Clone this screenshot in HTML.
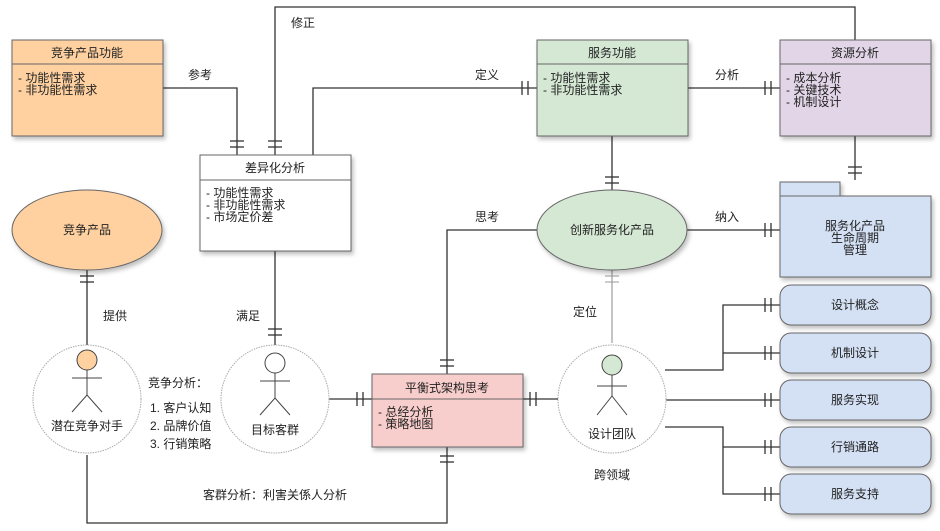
<!DOCTYPE html>
<html><head><meta charset="utf-8"><style>
html,body{margin:0;padding:0;background:#fff;}
svg{display:block;}
text{font-family:"Liberation Sans","Noto Sans CJK SC",sans-serif;font-size:12px;fill:#222;}
.c{text-anchor:middle;}
.ln{stroke:#333;stroke-width:1.3;fill:none;}
.box{stroke:#666;stroke-width:1;}
</style></head><body>
<svg width="940" height="531" viewBox="0 0 940 531" xmlns="http://www.w3.org/2000/svg">
<defs>
<filter id="sh" x="-10%" y="-10%" width="130%" height="130%"><feDropShadow dx="2" dy="3" stdDeviation="2" flood-color="#000" flood-opacity="0.25"/></filter>
</defs>

<g class="ln">
<polyline points="275,155 275,7 855,7 855,40"/>
<polyline points="163,88 237,88 237,155"/>
<polyline points="313,155 313,88 537,88"/>
<line x1="688" y1="88" x2="780" y2="88"/>
<line x1="855" y1="136" x2="855" y2="180"/>
<line x1="612" y1="136" x2="612" y2="190"/>
<line x1="687" y1="230" x2="780" y2="230"/>
<polyline points="537,230 447,230 447,374"/>
<line x1="275" y1="251" x2="275" y2="345"/>
<line x1="87" y1="270" x2="87" y2="345"/>
<line x1="328" y1="399" x2="372" y2="399"/>
<line x1="523" y1="399" x2="558" y2="399"/>
<polyline points="447,447 447,523 87,523 87,455"/>
<polyline points="665,370 723,370 723,305 780,305"/>
<line x1="723" y1="353" x2="780" y2="353"/>
<line x1="665" y1="400" x2="780" y2="400"/>
<polyline points="665,427 723,427 723,494 780,494"/>
<line x1="723" y1="447" x2="780" y2="447"/>
</g>
<line x1="612" y1="270" x2="612" y2="343" stroke="#888" stroke-width="1"/>

<g stroke="#333" stroke-width="1.3">
<line x1="230" y1="141" x2="244" y2="141"/><line x1="230" y1="147" x2="244" y2="147"/>
<line x1="268" y1="141" x2="282" y2="141"/><line x1="268" y1="147" x2="282" y2="147"/>
<line x1="522" y1="81" x2="522" y2="95"/><line x1="528" y1="81" x2="528" y2="95"/>
<line x1="765" y1="81" x2="765" y2="95"/><line x1="771" y1="81" x2="771" y2="95"/>
<line x1="848" y1="167" x2="862" y2="167"/><line x1="848" y1="173" x2="862" y2="173"/>
<line x1="605" y1="177" x2="619" y2="177"/><line x1="605" y1="183" x2="619" y2="183"/>
<line x1="765" y1="223" x2="765" y2="237"/><line x1="771" y1="223" x2="771" y2="237"/>
<line x1="440" y1="360" x2="454" y2="360"/><line x1="440" y1="366" x2="454" y2="366"/>
<line x1="268" y1="329" x2="282" y2="329"/><line x1="268" y1="335" x2="282" y2="335"/>
<line x1="80" y1="276" x2="94" y2="276"/><line x1="80" y1="282" x2="94" y2="282"/>
<line x1="357" y1="392" x2="357" y2="406"/><line x1="363" y1="392" x2="363" y2="406"/>
<line x1="530" y1="392" x2="530" y2="406"/><line x1="536" y1="392" x2="536" y2="406"/>
<line x1="440" y1="456" x2="454" y2="456"/><line x1="440" y1="462" x2="454" y2="462"/>
<line x1="765" y1="298" x2="765" y2="312"/><line x1="771" y1="298" x2="771" y2="312"/>
<line x1="765" y1="346" x2="765" y2="360"/><line x1="771" y1="346" x2="771" y2="360"/>
<line x1="765" y1="393" x2="765" y2="407"/><line x1="771" y1="393" x2="771" y2="407"/>
<line x1="765" y1="440" x2="765" y2="454"/><line x1="771" y1="440" x2="771" y2="454"/>
<line x1="765" y1="487" x2="765" y2="501"/><line x1="771" y1="487" x2="771" y2="501"/>
</g>
<g stroke="#999" stroke-width="1">
<line x1="605" y1="276" x2="619" y2="276"/><line x1="605" y1="282" x2="619" y2="282"/>
</g>

<g filter="url(#sh)">
<rect class="box" x="12" y="40" width="151" height="96" fill="#ffd1a0"/>
<rect class="box" x="200" y="155" width="151" height="96" fill="#fff"/>
<rect class="box" x="537" y="40" width="151" height="96" fill="#d5e8d4"/>
<rect class="box" x="780" y="40" width="151" height="96" fill="#e1d5e7"/>
<rect class="box" x="780" y="182" width="60" height="16" fill="#d4e1f5"/>
<rect class="box" x="780" y="196" width="151" height="81" fill="#d4e1f5"/>
<rect class="box" x="372" y="374" width="151" height="73" fill="#f8cecc"/>
<ellipse cx="87" cy="230" rx="75" ry="40" fill="#ffd1a0" stroke="#666"/>
<ellipse cx="612" cy="230" rx="75" ry="40" fill="#d5e8d4" stroke="#666"/>
<rect class="box" x="780" y="285" width="151" height="40" rx="11" fill="#d4e1f5"/>
<rect class="box" x="780" y="333" width="151" height="40" rx="11" fill="#d4e1f5"/>
<rect class="box" x="780" y="380" width="151" height="40" rx="11" fill="#d4e1f5"/>
<rect class="box" x="780" y="427" width="151" height="40" rx="11" fill="#d4e1f5"/>
<rect class="box" x="780" y="474" width="151" height="40" rx="11" fill="#d4e1f5"/>
</g>
<g stroke="#666" stroke-width="1">
<line x1="12" y1="64" x2="163" y2="64"/>
<line x1="200" y1="180" x2="351" y2="180"/>
<line x1="537" y1="64" x2="688" y2="64"/>
<line x1="780" y1="64" x2="931" y2="64"/>
<line x1="372" y1="399" x2="523" y2="399"/>
</g>

<g fill="#fff" stroke="#aaa" stroke-width="1" stroke-dasharray="1.5,1">
<circle cx="87" cy="399" r="54"/>
<circle cx="275" cy="399" r="54"/>
<circle cx="612" cy="399" r="54"/>
</g>
<g stroke="#444" stroke-width="1" fill="none">
<circle cx="87" cy="360" r="10" fill="#ffd1a0"/>
<line x1="87" y1="370" x2="87" y2="395"/><line x1="72" y1="378" x2="102" y2="378"/>
<polyline points="72,412 87,395 102,412"/>
<circle cx="275" cy="363" r="10" fill="#fff"/>
<line x1="275" y1="373" x2="275" y2="398"/><line x1="260" y1="381" x2="290" y2="381"/>
<polyline points="260,415 275,398 290,415"/>
<circle cx="612" cy="365" r="10" fill="#d5e8d4"/>
<line x1="612" y1="375" x2="612" y2="396"/><line x1="597" y1="386" x2="627" y2="386"/>
<polyline points="597,415 612,396 627,415"/>
</g>

<text class="c" x="87" y="57">竞争产品功能</text>
<text x="18" y="82">- 功能性需求</text><text x="18" y="94">- 非功能性需求</text>
<text class="c" x="275" y="172">差异化分析</text>
<text x="206" y="197">- 功能性需求</text><text x="206" y="209">- 非功能性需求</text><text x="206" y="221">- 市场定价差</text>
<text class="c" x="612" y="57">服务功能</text>
<text x="543" y="82">- 功能性需求</text><text x="543" y="94">- 非功能性需求</text>
<text class="c" x="855" y="57">资源分析</text>
<text x="786" y="82">- 成本分析</text><text x="786" y="94">- 关键技术</text><text x="786" y="106">- 机制设计</text>
<text class="c" x="855" y="230">服务化产品</text><text class="c" x="855" y="242">生命周期</text><text class="c" x="855" y="254">管理</text>
<text class="c" x="447" y="392">平衡式架构思考</text>
<text x="378" y="416">- 总经分析</text><text x="378" y="428">- 策略地图</text>
<text class="c" x="87" y="234">竞争产品</text>
<text class="c" x="612" y="234">创新服务化产品</text>
<text class="c" x="87" y="430">潜在竞争对手</text>
<text class="c" x="275" y="434">目标客群</text>
<text class="c" x="612" y="438">设计团队</text>
<text class="c" x="612" y="479">跨领域</text>
<text class="c" x="855" y="309">设计概念</text>
<text class="c" x="855" y="357">机制设计</text>
<text class="c" x="855" y="404">服务实现</text>
<text class="c" x="855" y="451">行销通路</text>
<text class="c" x="855" y="498">服务支持</text>
<text x="291" y="27">修正</text>
<text x="188" y="79">参考</text>
<text x="475" y="79">定义</text>
<text x="715" y="79">分析</text>
<text x="475" y="221">思考</text>
<text x="715" y="221">纳入</text>
<text x="573" y="316">定位</text>
<text x="103" y="320">提供</text>
<text x="236" y="320">满足</text>
<text x="148" y="387">竞争分析：</text>
<text x="150" y="412">1. 客户认知</text>
<text x="150" y="430">2. 品牌价值</text>
<text x="150" y="448">3. 行销策略</text>
<text x="203" y="499">客群分析：利害关係人分析</text>
</svg>
</body></html>
